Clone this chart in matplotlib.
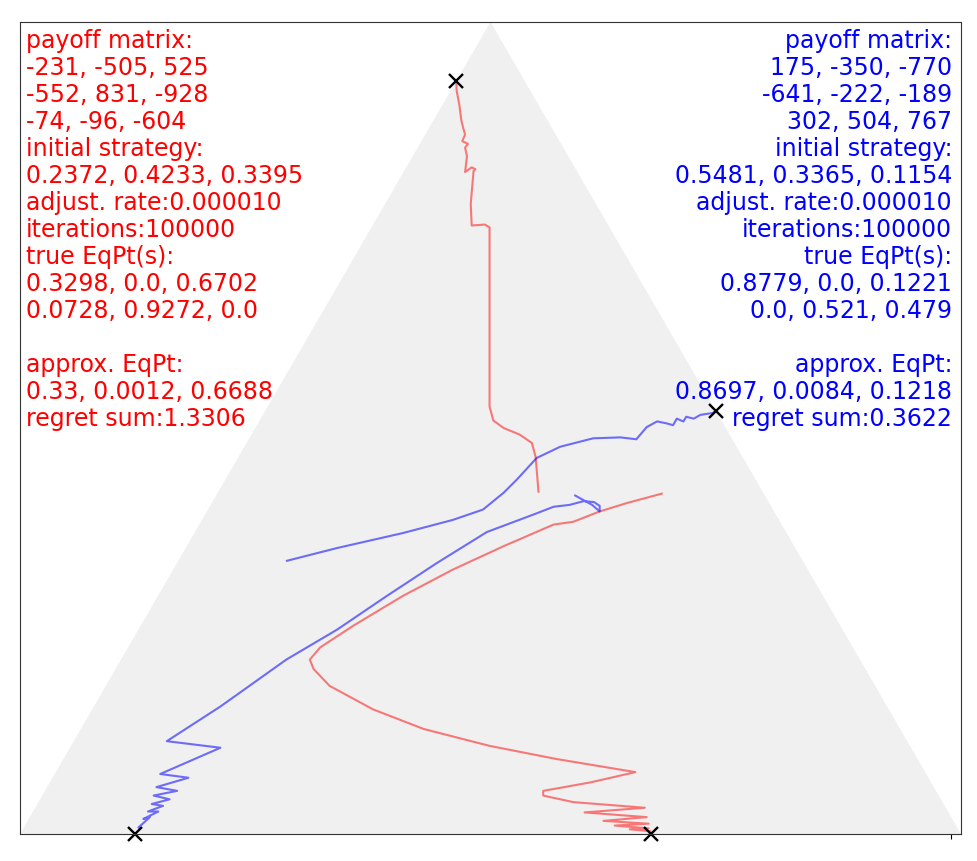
import numpy as np
import matplotlib
matplotlib.use("Agg")
import matplotlib.pyplot as plt
from matplotlib.patches import Polygon

# ---- data ----
red_payoff = ["-231, -505, 525", "-552, 831, -928", "-74, -96, -604"]
red_init = [0.2372, 0.4233, 0.3395]
red_true_eq = [[0.3298, 0.0, 0.6702], [0.0728, 0.9272, 0.0]]
red_approx = [0.33, 0.0012, 0.6688]
red_regret = 1.3306

blue_payoff = ["175, -350, -770", "-641, -222, -189", "302, 504, 767"]
blue_init = [0.5481, 0.3365, 0.1154]
blue_true_eq = [[0.8779, 0.0, 0.1221], [0.0, 0.521, 0.479]]
blue_approx = [0.8697, 0.0084, 0.1218]
blue_regret = 0.3622

rate = "0.000010"
iterations = 100000

# trajectories in simplex-plot coordinates (x, y)
red_a_x = [0.551, 0.548, 0.544, 0.531, 0.514, 0.503, 0.499, 0.499, 0.494, 0.480, 0.479, 0.482,
           0.484, 0.480, 0.473, 0.475, 0.473, 0.476, 0.470, 0.473, 0.471, 0.469, 0.467, 0.464, 0.4636]
red_a_y = [0.365, 0.402, 0.417, 0.426, 0.433, 0.441, 0.456, 0.647, 0.650, 0.649, 0.672, 0.707,
           0.709, 0.711, 0.706, 0.723, 0.732, 0.736, 0.739, 0.746, 0.753, 0.761, 0.777, 0.793, 0.803]

red_b_x = [0.682, 0.645, 0.616, 0.588, 0.567, 0.514, 0.460, 0.407, 0.354, 0.319, 0.308, 0.312,
           0.329, 0.375, 0.429, 0.499, 0.570, 0.654, 0.606, 0.556, 0.556, 0.588, 0.664, 0.600,
           0.666, 0.620, 0.668, 0.632, 0.668, 0.648, 0.670, 0.6694]
red_b_y = [0.363, 0.353, 0.344, 0.333, 0.330, 0.307, 0.282, 0.254, 0.222, 0.199, 0.186, 0.176,
           0.158, 0.133, 0.112, 0.094, 0.080, 0.066, 0.055, 0.046, 0.041, 0.034, 0.028, 0.023,
           0.018, 0.014, 0.011, 0.009, 0.006, 0.005, 0.003, 0.001]

blue_a_x = [0.2837, 0.337, 0.407, 0.460, 0.492, 0.514, 0.528, 0.549, 0.574, 0.609, 0.638, 0.655,
            0.666, 0.677, 0.687, 0.694, 0.698, 0.705, 0.708, 0.716, 0.723, 0.736, 0.7395]
blue_a_y = [0.2914, 0.305, 0.321, 0.335, 0.346, 0.364, 0.378, 0.401, 0.413, 0.422, 0.423, 0.421,
            0.434, 0.440, 0.438, 0.436, 0.443, 0.440, 0.445, 0.443, 0.447, 0.449, 0.4512]

blue_b_x = [0.590, 0.608, 0.616, 0.616, 0.610, 0.599, 0.584, 0.567, 0.549, 0.496, 0.443, 0.390,
            0.337, 0.283, 0.213, 0.156, 0.213, 0.149, 0.179, 0.145, 0.167, 0.142, 0.159, 0.140,
            0.152, 0.136, 0.147, 0.131, 0.138, 0.126]
blue_b_y = [0.361, 0.351, 0.344, 0.350, 0.354, 0.355, 0.351, 0.349, 0.342, 0.322, 0.289, 0.254,
            0.218, 0.186, 0.136, 0.099, 0.092, 0.064, 0.060, 0.050, 0.046, 0.041, 0.037, 0.032,
            0.030, 0.024, 0.024, 0.016, 0.018, 0.007]

H = np.sqrt(3) / 2


def to_xy(p):
    # vertices: p1 -> (0,0), p2 -> (0.5, H), p3 -> (1,0)
    return p[2] + 0.5 * p[1], H * p[1]


def fmt(p):
    return ", ".join(str(v) for v in p)


def info(payoff, init, eqs, approx, regret):
    lines = ["payoff matrix:"] + payoff + [
        "initial strategy:",
        ", ".join(f"{v:.4f}" for v in init),
        f"adjust. rate:{rate}",
        f"iterations:{iterations}",
        "true EqPt(s):",
    ] + [fmt(e) for e in eqs] + ["", "approx. EqPt:", fmt(approx), f"regret sum:{regret}"]
    return "\n".join(lines)


fig = plt.figure(figsize=(9.78, 8.62), dpi=100)
ax = fig.add_axes([20 / 978, 27 / 862, 941 / 978, 812 / 862])
ax.set_xlim(0, 1)
ax.set_ylim(0, H)

tri = Polygon([[0, 0], [0.5, H], [1, 0]], closed=True, facecolor="#f0f0f0", edgecolor="none")
ax.add_patch(tri)

ax.plot(red_a_x, red_a_y, color="red", alpha=0.5, lw=1.5)
ax.plot(red_b_x, red_b_y, color="red", alpha=0.5, lw=1.5)
ax.plot(blue_a_x, blue_a_y, color="blue", alpha=0.55, lw=1.5)
ax.plot(blue_b_x, blue_b_y, color="blue", alpha=0.55, lw=1.5)

for e in red_true_eq + blue_true_eq:
    x, y = to_xy(e)
    ax.plot(x, y, marker="x", color="black", markersize=10.5, mew=1.7, clip_on=False)

ax.text(0.006, 0.992, info(red_payoff, red_init, red_true_eq, red_approx, red_regret),
        transform=ax.transAxes, ha="left", va="top", color="red", fontsize=17,
        linespacing=1.155)
ax.text(0.9905, 0.992, info(blue_payoff, blue_init, blue_true_eq, blue_approx, blue_regret),
        transform=ax.transAxes, ha="right", va="top", color="blue", fontsize=17,
        linespacing=1.155, multialignment="right")

ax.set_xticks([0.989])
ax.set_xticklabels([""])
ax.set_yticks([])
for s in ax.spines.values():
    s.set_color("#333333")

fig.savefig("out.png", dpi=100)
